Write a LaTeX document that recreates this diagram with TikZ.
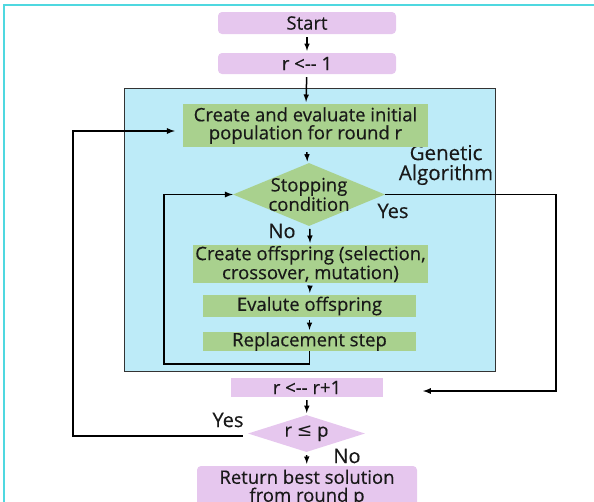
\documentclass[tikz,border=0pt]{standalone}
\usepackage{fontspec}
\setmainfont{Open Sans}[FakeBold=0.4]
\newfontfamily\symfont{DejaVu Sans}
\usetikzlibrary{shapes.geometric}

\definecolor{roundpink}{HTML}{E6C7EE}
\definecolor{stepgreen}{HTML}{A9D18E}
\definecolor{gablue}{HTML}{BDEBF8}
\definecolor{framecyan}{HTML}{4FD8E0}

\tikzset{
  pinkbox/.style={fill=roundpink, rounded corners=4pt, inner sep=0pt, align=center},
  greenbox/.style={fill=stepgreen, inner sep=0pt, align=center},
  decide/.style={diamond, inner sep=0pt},
  tag/.style={font=\fontsize{20}{20}\selectfont},
  arr/.style={->, line width=1.5pt, shorten <=3pt, shorten >=2pt},
  loopline/.style={->, line width=1.7pt},
}

\begin{document}
\begin{tikzpicture}[>=latex, x=1pt, y=-1pt, font=\fontsize{18.5}{18}\selectfont, text=black!90]
  \useasboundingbox (0,0) rectangle (594,501);
  \clip (0,0) rectangle (594,501);
  \draw [framecyan, line width=1.5pt] (4,520) -- (4,5) -- (610,5);

  % genetic algorithm block
  \draw [fill=gablue, draw=black!80, line width=0.8pt] (124,88) rectangle (495,371);
  \node (ga) at (446,165) [align=center, font=\fontsize{20.5}{20}\selectfont] {Genetic\\Algorithm};

  \node (start) at (307,23) [pinkbox, minimum width=178pt, minimum height=22pt] {Start};
  \node (rone) at (307,63.5) [pinkbox, minimum width=178pt, minimum height=21pt] {r <{-}{-} 1};
  \node (create) at (305.5,125.5) [greenbox, minimum width=245pt, minimum height=43pt]
    {Create and evaluate initial\\population for round r};
  \node (stop) at (309,194.5) [decide, fill=stepgreen, minimum width=152pt, minimum height=63pt,
    label={[align=center]center:Stopping\\condition}] {};
  \node (offspring) at (310.5,264) [greenbox, minimum width=235pt, minimum height=38pt]
    {Create offspring (selection,\\crossover, mutation)};
  \node (evalute) at (309.5,306) [greenbox, minimum width=213pt, minimum height=22pt] {Evalute offspring};
  \node (replace) at (309.5,341.5) [greenbox, minimum width=213pt, minimum height=19pt] {Replacement step};
  \node (rnext) at (307,387.5) [pinkbox, rounded corners=0pt, minimum width=152pt, minimum height=19pt] {r <{-}{-} r+1};
  \node (rlep) at (306.5,433.5) [decide, fill=roundpink, minimum width=117pt, minimum height=37pt,
    label={center:r {\symfont ≤} p}] {};
  \node (ret) at (307,488) [pinkbox, minimum width=220pt, minimum height=44pt]
    {Return best solution\\from round p};

  \node at (282,231) [tag] {No};
  \node at (393,211) [tag] {Yes};
  \node at (228,420) [tag] {Yes};
  \node at (347,456) [tag] {No};

  \coordinate (innerturn) at (164,364);
  \coordinate (yesturn) at (556,391);
  \coordinate (yesend) at (423,391);
  \coordinate (outerturn) at (73,436);

  \draw [arr] (start) -- (rone);
  \draw [arr] (rone) -- (create);
  \draw [arr, shorten <=5pt] (create) -- (stop);
  \draw [arr] (stop) -- (offspring);
  \draw [arr] (offspring) -- (evalute);
  \draw [arr] (evalute) -- (replace);
  \draw [arr] (rnext) -- (rlep);
  \draw [arr] (rlep) -- (ret);
  \draw [loopline] (replace.south) |- (innerturn) |- (stop.west);
  \draw [loopline] (stop.east) -| (yesturn) -- (yesend);
  \draw [loopline, shorten >=8pt, shorten <=5pt] ([yshift=-2.5pt]rlep.west) -| (outerturn)
    |- ([yshift=-5.5pt]create.west);
\end{tikzpicture}
\end{document}
